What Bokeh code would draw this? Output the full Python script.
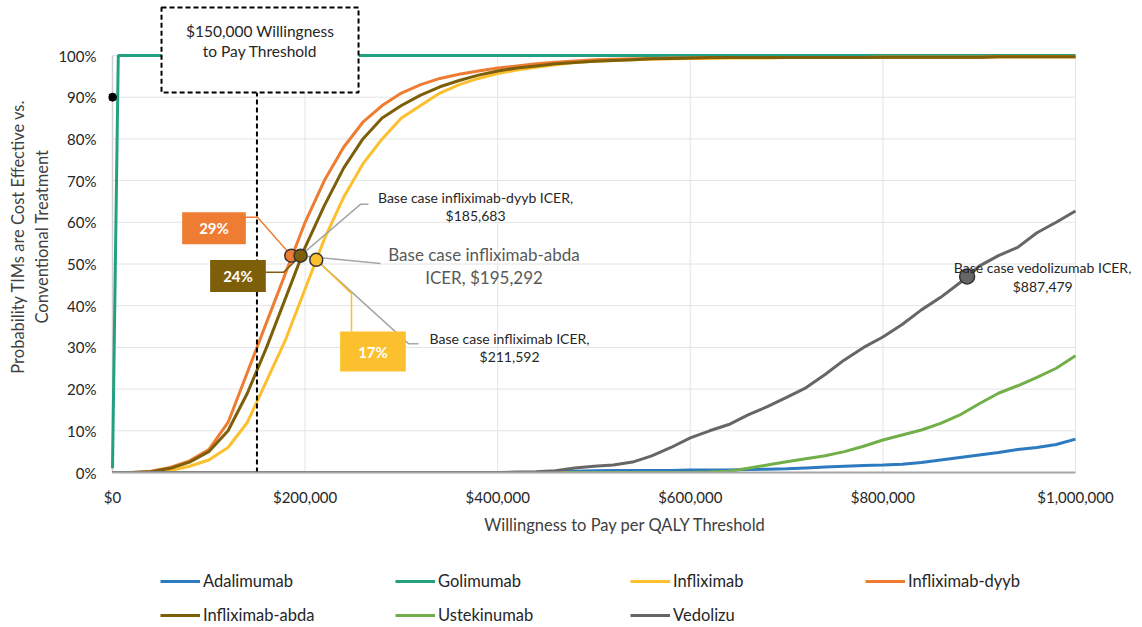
from bokeh.plotting import figure
from bokeh.layouts import column
from bokeh.models import (Range1d, FixedTicker, NumeralTickFormatter, PrintfTickFormatter,
                          Legend, LegendItem, Label, BoxAnnotation)
from bokeh.embed import file_html
from bokeh.resources import INLINE

# ---------------- data ----------------
wtp = list(range(0, 1_000_001, 20_000))  # willingness-to-pay grid ($)

adalimumab = [0]*23 + [0.2, 0.3, 0.4, 0.5, 0.5, 0.5, 0.5, 0.6, 0.6, 0.6, 0.7, 0.8, 0.9, 1.1,
                       1.3, 1.5, 1.7, 1.8, 2.0, 2.4, 3.0, 3.6, 4.2, 4.8, 5.5, 6.0, 6.7, 8.0]
ustekinumab = [0]*31 + [0.1, 0.3, 1.0, 1.8, 2.6, 3.3, 4.0, 5.0, 6.3, 7.8, 9.0, 10.2, 11.8, 13.8,
                        16.5, 19.0, 20.8, 22.8, 25.0, 28.0]
vedolizumab = [0]*21 + [0.1, 0.2, 0.4, 1.1, 1.5, 1.8, 2.5, 4.0, 6.0, 8.3, 10.0, 11.5, 13.8, 15.8,
                        18.0, 20.3, 23.5, 27.0, 30.0, 32.5, 35.5, 39.0, 42.0, 45.5, 49.5, 52.0,
                        54.0, 57.5, 60.0, 62.7]
infliximab = [0, 0, 0, 0.5, 1.5, 3, 6, 12, 22, 32, 44, 56, 66, 74, 80, 85, 88, 91, 93, 94.5, 95.7,
              96.5, 97.2, 97.8, 98.3, 98.6, 98.8, 99.0, 99.1, 99.2, 99.3,
              99.3, 99.4, 99.4, 99.4, 99.5, 99.5, 99.5, 99.5, 99.5, 99.6, 99.6, 99.6, 99.6, 99.6,
              99.6, 99.7, 99.7, 99.7, 99.7, 99.7]
infliximab_dyyb = [0, 0, 0.3, 1.2, 2.8, 5.5, 12, 24, 36, 48, 60, 70, 78, 84, 88, 91, 93, 94.5, 95.5,
                   96.3, 97, 97.5, 98, 98.4, 98.7, 99.0, 99.1, 99.2, 99.3, 99.4, 99.4,
                   99.5, 99.5, 99.5, 99.5, 99.5, 99.5, 99.5, 99.5, 99.5, 99.6, 99.6, 99.6, 99.6,
                   99.6, 99.6, 99.7, 99.7, 99.7, 99.7, 99.7]
infliximab_abda = [0, 0, 0.2, 1, 2.5, 5, 10, 19, 30, 42, 54, 64, 73, 80, 85, 88, 90.5, 92.5, 94,
                   95.3, 96.3, 97, 97.5, 98, 98.3, 98.6, 98.8, 99.0, 99.2, 99.3, 99.4,
                   99.5, 99.5, 99.5, 99.5, 99.5, 99.5, 99.5, 99.5, 99.5, 99.6, 99.6, 99.6, 99.6,
                   99.6, 99.6, 99.7, 99.7, 99.7, 99.7, 99.7]
golimumab_x = [0, 6000, 1_000_000]
golimumab_y = [1, 100, 100]

icer_x = [185683, 195292, 211592, 887479]
icer_y = [52, 52, 51, 47]
icer_text = ["Base case infliximab-dyyb ICER,\n$185,683",
             "Base case infliximab-abda\nICER, $195,292",
             "Base case infliximab ICER,\n$211,592",
             "Base case vedolizumab ICER,\n$887,479"]
pct_at_threshold = ["29%", "24%", "17%"]
threshold = 150000
dot_x = [0]
dot_y = [90]

series_names = ["Adalimumab", "Golimumab", "Infliximab", "Infliximab-dyyb",
                "Infliximab-abda", "Ustekinumab", "Vedolizu"]

x_ticks = [0, 200000, 400000, 600000, 800000, 1000000]
y_ticks = [0, 10, 20, 30, 40, 50, 60, 70, 80, 90, 100]

C_ADA = "#2C7BC0"
C_GOL = "#23A07F"
C_INF = "#FCC02E"
C_DYYB = "#EE7D33"
C_ABDA = "#7D5E09"
C_UST = "#72AF49"
C_VED = "#666666"
C_GRID = "#E4E4E4"
colors = [C_ADA, C_GOL, C_INF, C_DYYB, C_ABDA, C_UST, C_VED]

FONT = "Lato"
TXT = "#262626"

p = figure(width=1142, height=540, output_backend="svg", toolbar_location=None,
           x_range=Range1d(-4154, 1_069_600), y_range=Range1d(0, 113.19),
           min_border_left=108, min_border_right=0, min_border_top=0, min_border_bottom=68)
p.outline_line_color = None
p.background_fill_color = "white"
p.grid.visible = False

# axes
p.xaxis.ticker = FixedTicker(ticks=x_ticks)
p.yaxis.ticker = FixedTicker(ticks=y_ticks)
p.xaxis.formatter = NumeralTickFormatter(format="$0,0")
p.yaxis.formatter = PrintfTickFormatter(format="%d%%")
p.xaxis.bounds = (0, 1_000_000)
p.yaxis.bounds = (0, 100)
for ax in (p.xaxis, p.yaxis):
    ax.major_tick_line_color = None
    ax.minor_tick_line_color = None
    ax.major_label_text_font = FONT
    ax.major_label_text_font_size = "15px"
    ax.major_label_text_color = TXT
    ax.axis_label_text_font = FONT
    ax.axis_label_text_font_size = "16.5px"
    ax.axis_label_text_font_style = "normal"
    ax.axis_label_text_color = "#404040"
p.xaxis.axis_line_color = "#A6A6A6"
p.xaxis.axis_line_width = 2
p.yaxis.axis_line_color = None
p.xaxis.major_label_standoff = 9
p.yaxis.major_label_standoff = 6
p.xaxis.axis_label = "Willingness to Pay per QALY Threshold"
p.xaxis.axis_label_standoff = 6
p.yaxis.axis_label = "Probability TIMs are Cost Effective vs.\nConventional Treatment"
p.yaxis.axis_label_standoff = 3

# gridlines (limited to the 0-100% / $0-$1M plot region)
p.segment(x0=[0]*len(y_ticks), y0=y_ticks, x1=[x_ticks[-1]]*len(y_ticks), y1=y_ticks,
          line_color=C_GRID, line_width=1)
p.segment(x0=x_ticks[1:], y0=[0]*(len(x_ticks)-1), x1=x_ticks[1:], y1=[y_ticks[-1]]*(len(x_ticks)-1),
          line_color=C_GRID, line_width=1)
p.segment(x0=[0], y0=[0], x1=[0], y1=[y_ticks[-1]], line_color="#CFCFCF", line_width=1.5)

# curves
lw = 3
p.line(wtp, adalimumab, color=C_ADA, line_width=lw)
p.line(golimumab_x, golimumab_y, color=C_GOL, line_width=lw)
p.line(wtp, infliximab, color=C_INF, line_width=lw)
p.line(wtp, infliximab_dyyb, color=C_DYYB, line_width=lw)
p.line(wtp, infliximab_abda, color=C_ABDA, line_width=lw)
p.line(wtp, ustekinumab, color=C_UST, line_width=lw)
p.line(wtp, vedolizumab, color=C_VED, line_width=lw)

# threshold box + dashed line
p.segment(x0=[threshold], y0=[0], x1=[threshold], y1=[91.1], line_color="black",
          line_width=2, line_dash="5 3")
p.add_layout(BoxAnnotation(left=50900, right=255500, bottom=91.1, top=111.5,
                           fill_color="white", fill_alpha=1.0, line_color="black",
                           line_alpha=1.0, line_width=2, line_dash="5 3"))
p.add_layout(Label(x=153200, y=103.5, text="$150,000 Willingness\nto Pay Threshold",
                   text_align="center", text_baseline="middle", text_font=FONT,
                   text_font_size="15.5px", text_color=TXT, text_line_height=1.1))

p.scatter(dot_x, dot_y, size=8, color="black")

# leader lines
p.line([icer_x[1], 257500, 265800], [icer_y[1], 64.3, 64.3], color="#A6A6A6", line_width=1.5)
p.line([icer_x[1], 278300], [icer_y[1], 50.1], color="#A6A6A6", line_width=1.5)
p.line([icer_x[2], 307400, 317800], [icer_y[2], 30.9, 30.9], color="#A6A6A6", line_width=1.5)
p.line([138100, 150600, icer_x[0]], [61.2, 61.2, icer_y[0]], color=C_DYYB, line_width=1.5)
p.line([158900, 177600, icer_x[1]], [48.0, 48.0, icer_y[1]], color=C_ABDA, line_width=1.5)
p.line([248200, 248200, icer_x[2]], [33.8, 42.9, icer_y[2]], color=C_INF, line_width=1.5)

# ICER markers
p.scatter(icer_x, icer_y, size=[13, 13, 13, 15],
          fill_color=[C_DYYB, C_ABDA, C_INF, C_VED], line_color="#333333", line_width=1.5)

# ICER texts
p.add_layout(Label(x=377000, y=63.8, text=icer_text[0], text_align="center",
                   text_baseline="middle", text_font=FONT, text_font_size="14px",
                   text_color=TXT, text_line_height=1.03))
p.add_layout(Label(x=385800, y=49.5, text=icer_text[1], text_align="center",
                   text_baseline="middle", text_font=FONT, text_font_size="17px",
                   text_color="#595959", text_line_height=1.07))
p.add_layout(Label(x=412300, y=29.9, text=icer_text[2], text_align="center",
                   text_baseline="middle", text_font=FONT, text_font_size="14px",
                   text_color=TXT, text_line_height=1.07))
p.add_layout(Label(x=966000, y=46.9, text=icer_text[3], text_align="center",
                   text_baseline="middle", text_font=FONT, text_font_size="14px",
                   text_color=TXT, text_line_height=1.07))

# percentage boxes
for (xx, yy, txt, col, pl, pt) in [(105400, 58.6, pct_at_threshold[0], C_DYYB, 17, 7),
                                     (130300, 47.1, pct_at_threshold[1], C_ABDA, 13, 7),
                                     (270500, 29.0, pct_at_threshold[2], C_INF, 18, 11)]:
    p.add_layout(Label(x=xx, y=yy, text=txt, text_align="center", text_baseline="middle",
                       text_font=FONT, text_font_size="15px", text_font_style="bold",
                       text_color="white", background_fill_color=col, background_fill_alpha=1.0,
                       padding=dict(left=pl, right=pl, top=pt, bottom=pt)))

# legend panel (separate strip under the chart)
lg = figure(width=1142, height=87, output_backend="svg", toolbar_location=None,
            x_axis_location=None, y_axis_location=None,
            x_range=Range1d(0, 1), y_range=Range1d(0, 1),
            min_border_left=0, min_border_right=0, min_border_top=0, min_border_bottom=0)
lg.outline_line_color = None
lg.grid.visible = False
items = []
for name, col in zip(series_names, colors):
    r = lg.line([5, 6], [5, 6], color=col, line_width=lw)  # off-range: legend sample only
    items.append(LegendItem(label=name, renderers=[r]))
legend = Legend(items=items, location=(52, 2), orientation="horizontal", ncols=4,
                glyph_width=40, glyph_height=16, label_height=16, label_width=178,
                label_standoff=3, spacing=14, padding=0, margin=0,
                border_line_color=None, background_fill_alpha=0.0,
                label_text_font=FONT, label_text_font_size="16.5px", label_text_color=TXT)
lg.add_layout(legend, "center")

layout = column(p, lg, spacing=0)
open("out.html", "w").write(file_html(layout, INLINE))
